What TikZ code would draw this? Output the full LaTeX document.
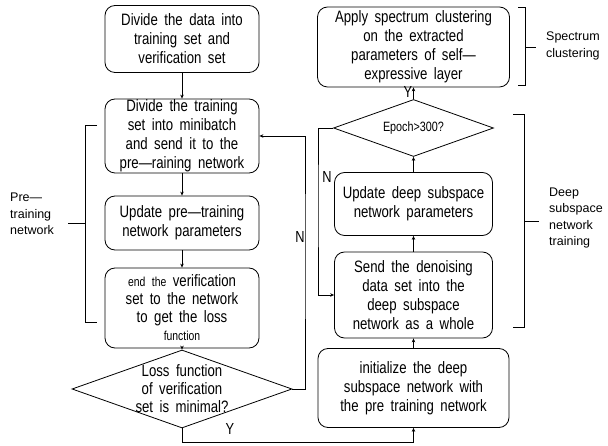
\documentclass[tikz,border=0pt]{standalone}
\usepackage{fontspec}
\setmainfont{Liberation Sans}
\newfontfamily\bxfont[FakeStretch=0.8]{Liberation Sans}
\newcommand\bxf{\bxfont\fontsize{16.5}{19}\selectfont\spaceskip 6.5pt plus 1pt\relax}
\newcommand\bxg{\bxfont\fontsize{16.5}{18}\selectfont\spaceskip 6.5pt plus 1pt\relax}
\newcommand\bxs{\fontsize{13}{18}\selectfont}
\newcommand\epf{\bxfont\fontsize{13.5}{13}\selectfont}
\newcommand\ynf{\bxfont\fontsize{16}{16}\selectfont}
\newcommand\labf{\fontsize{12.5}{16.5}\selectfont}
\usetikzlibrary{shapes.geometric,arrows.meta}
\begin{document}
\begin{tikzpicture}[x=1pt,y=-1pt,
 box/.style={draw, rounded corners=10pt, line width=0.8pt, align=center, inner sep=0pt, font=\bxf},
 dia/.style={draw, diamond, line width=0.8pt, inner sep=0pt},
 dtext/.style={align=center, inner sep=0pt, font=\bxg},
 arr/.style={-{Stealth[length=4pt,width=3.5pt]}, line width=0.8pt},
 ln/.style={line width=0.8pt},
 lab/.style={align=left, inner sep=0pt, font=\labf},
 yn/.style={inner sep=0pt, font=\ynf}]
\useasboundingbox (0,0) rectangle (608,446);
% left column
\node[box, minimum width=154, minimum height=67] (b1) at (182,39) {Divide the data into\\training set and\\verification set};
\node[box, minimum width=154, minimum height=74] (b2) at (182,136) {Divide the training\\set into minibatch\\and send it to the\\pre—raining network};
\node[box, minimum width=154, minimum height=54] (b3) at (182,223) {Update pre—training\\network parameters};
\node[box, minimum width=154, minimum height=80, font=\bxg] (b4) at (182,308) {{\bxs end the} verification\\set to the network\\to get the loss\\{\bxs function}};
\node[dia, minimum width=220, minimum height=78] (d1) at (182,389) {};
\node[dtext] (d1t) at (d1) {Loss function\\of verification\\set is minimal?};
% right column
\node[box, minimum width=192, minimum height=80] (s1) at (413.5,47) {Apply spectrum clustering\\on the extracted\\parameters of self—\\expressive layer};
\node[dia, minimum width=160, minimum height=57] (e1) at (413.5,128) {};
\node[dtext, font=\epf] (e1t) at (e1) {Epoch>300?};
\node[box, minimum width=158, minimum height=63] (u1) at (413.5,204) {Update deep subspace\\network parameters};
\node[box, minimum width=158, minimum height=86] (n1) at (413.5,295) {Send the denoising\\data set into the\\deep subspace\\network as a whole};
\node[box, minimum width=191, minimum height=79] (i1) at (413.5,388) {initialize the deep\\subspace network with\\the pre training network};
% connectors
\draw[arr] (b1) -- (b2);
\draw[arr] (b2) -- (b3);
\draw[arr] (b3) -- (b4);
\draw[arr] (b4) -- (d1);
\coordinate (c1) at (182,442);
\draw[arr] (d1.south) -- (c1) -| (i1.south);
\coordinate (c2) at (305,250);
\draw[arr] (d1.east) -| (c2) |- (b2.east);
\draw[arr] (i1) -- (n1);
\draw[arr] (n1) -- (u1);
\draw[arr] (u1) -- (e1);
\draw[arr] (e1) -- (s1);
\coordinate (c3) at (318,200);
\draw[arr] (e1.west) -| (c3) |- (n1.west);
\node[yn] (y1) at (230,429) {Y};
\node[yn] (n1l) at (300,237) {N};
\node[yn] (y2) at (408,92) {Y};
\node[yn] (n2l) at (327,177) {N};
% brackets
\draw[ln] (97,125) -- (85,125) -- (85,322) -- (97,322);
\draw[ln] (85,223) -- (68,223);
\node[lab, anchor=west] (pl) at (10,214) {Pre—\\training\\network};
\draw[ln] (518,7) -- (525,7) -- (525,85) -- (518,85);
\draw[ln] (525,47) -- (536,47);
\node[lab, anchor=west] (sl) at (546,46) {Spectrum\\clustering};
\draw[ln] (513,114) -- (524,114) -- (524,327) -- (513,327);
\draw[ln] (524,221) -- (539,221);
\node[lab, anchor=west] (dl) at (549,218) {Deep\\subspace\\network\\training};
\end{tikzpicture}
\end{document}
